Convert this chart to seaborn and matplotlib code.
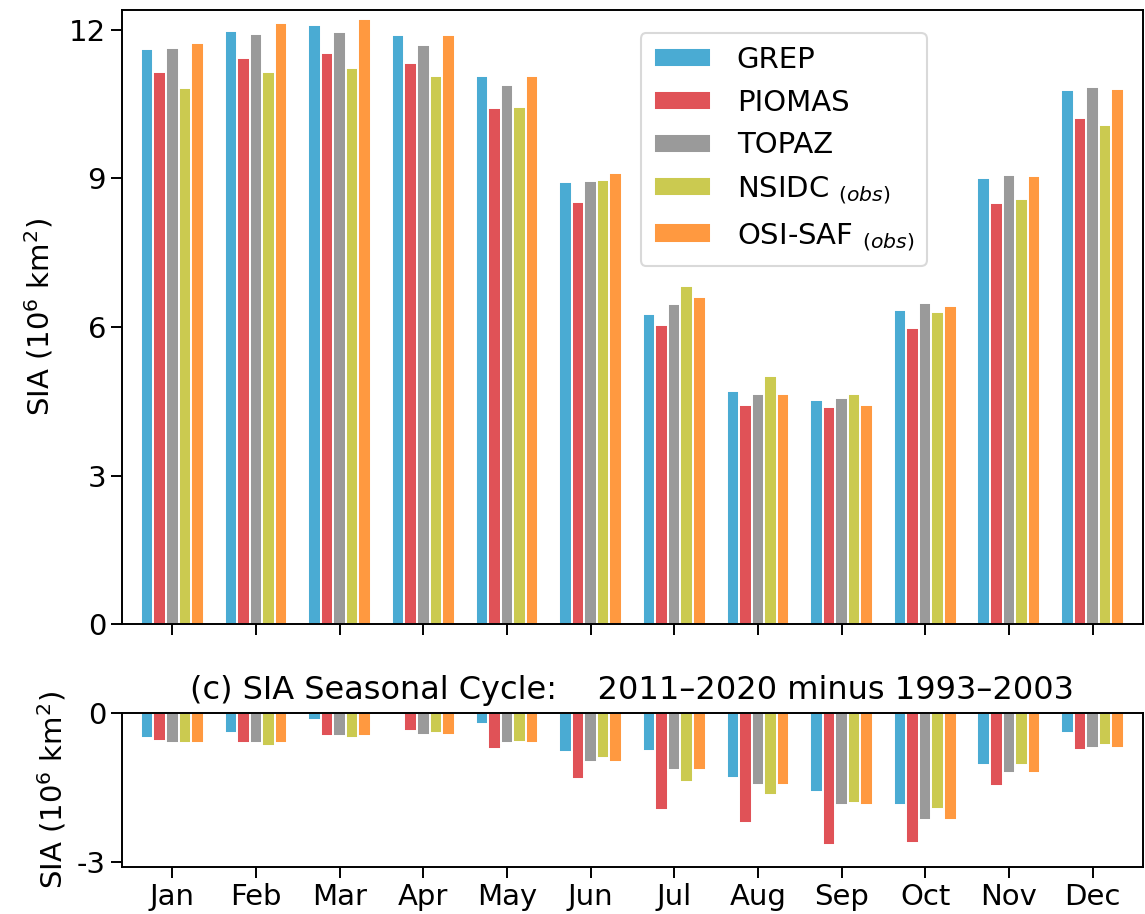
import numpy as np
import pandas as pd
import matplotlib
matplotlib.use("Agg")
import matplotlib.pyplot as plt
import seaborn as sns

# ------------------------------------------------------------
# Data: SIA seasonal cycle (10^6 km^2)
# ------------------------------------------------------------
months = ['Jan', 'Feb', 'Mar', 'Apr', 'May', 'Jun',
          'Jul', 'Aug', 'Sep', 'Oct', 'Nov', 'Dec']
models = ['GREP', 'PIOMAS', 'TOPAZ', 'NSIDC', 'OSI-SAF']
labels = ['GREP', 'PIOMAS', 'TOPAZ', r'NSIDC $_{(obs)}$', r'OSI-SAF $_{(obs)}$']
colors = ['#4aabd3', '#e05257', '#9a9a9a', '#cbca50', '#ff9940']

grep = [11.61, 11.97, 12.09, 11.90, 11.06, 8.93, 6.26, 4.70, 4.52, 6.34, 9.01, 10.79]
piomas = [11.14, 11.43, 11.54, 11.33, 10.42, 8.53, 6.05, 4.42, 4.38, 5.99, 8.51, 10.23]
topaz = [11.64, 11.92, 11.96, 11.70, 10.89, 8.95, 6.47, 4.64, 4.56, 6.49, 9.07, 10.85]
nsidc = [10.82, 11.15, 11.24, 11.06, 10.44, 8.97, 6.83, 5.02, 4.64, 6.31, 8.59, 10.08]
osisaf = [11.73, 12.14, 12.21, 11.90, 11.06, 9.11, 6.61, 4.64, 4.43, 6.42, 9.05, 10.80]

# 2011-2020 minus 1993-2003
d_grep = [-0.50, -0.41, -0.15, -0.01, -0.23, -0.79, -0.76, -1.31, -1.60, -1.86, -1.05, -0.40]
d_piomas = [-0.57, -0.60, -0.46, -0.36, -0.72, -1.32, -1.96, -2.21, -2.65, -2.62, -1.47, -0.75]
d_topaz = [-0.60, -0.60, -0.46, -0.44, -0.60, -0.98, -1.15, -1.46, -1.86, -2.16, -1.21, -0.70]
d_nsidc = [-0.60, -0.67, -0.50, -0.41, -0.59, -0.90, -1.39, -1.66, -1.81, -1.94, -1.04, -0.64]
d_osisaf = [-0.60, -0.60, -0.46, -0.44, -0.60, -0.98, -1.15, -1.46, -1.86, -2.16, -1.21, -0.70]


def long_table(series):
    rows = []
    for name, vals in zip(models, series):
        for m, v in zip(months, vals):
            rows.append({'month': m, 'model': name, 'SIA': v})
    return pd.DataFrame(rows)


clim = long_table([grep, piomas, topaz, nsidc, osisaf])
diff = long_table([d_grep, d_piomas, d_topaz, d_nsidc, d_osisaf])

# ------------------------------------------------------------
# Plot
# ------------------------------------------------------------
sns.set_style('ticks', rc={'axes.edgecolor': 'black', 'text.color': 'black',
                           'axes.labelcolor': 'black', 'xtick.color': 'black',
                           'ytick.color': 'black'})
plt.rcParams['font.family'] = ['DejaVu Sans']
plt.rcParams['axes.unicode_minus'] = False
plt.rcParams['axes.linewidth'] = 1.4

fig = plt.figure(figsize=(11.45, 9.14), dpi=100)
ax1 = fig.add_axes([0.1066, 0.317, 0.8914, 0.672])
ax2 = fig.add_axes([0.1066, 0.0514, 0.8914, 0.1686])

pal = dict(zip(models, colors))
bar_kw = dict(x='month', y='SIA', hue='model', hue_order=models, order=months,
              palette=pal, width=0.75, saturation=1, edgecolor='white',
              linewidth=1.4)

sns.barplot(data=clim, ax=ax1, **bar_kw)
sns.barplot(data=diff, ax=ax2, legend=False, **bar_kw)

# top panel
ax1.set_ylim(0, 12.4)
ax1.set_xlim(-0.6, 11.6)
ax1.set_yticks([0, 3, 6, 9, 12])
ax1.set_xticklabels([])
ax1.set_xlabel('')
ax1.set_ylabel('SIA (10$^6$ km$^2$)', fontsize=21, labelpad=10)
ax1.tick_params(axis='both', labelsize=21, length=8, width=1.4)

handles, _ = ax1.get_legend_handles_labels()
leg = ax1.legend(handles, labels, loc='upper left', bbox_to_anchor=(0.508, 0.9625),
                 borderaxespad=0, fontsize=21, handlelength=1.95, handleheight=0.63,
                 labelspacing=0.5, borderpad=0.45, handletextpad=0.9,
                 frameon=True, edgecolor='#d0d0d0', fancybox=True)
leg.get_frame().set_linewidth(1.5)

# bottom panel
ax2.set_ylim(-3.1, 0)
ax2.set_xlim(-0.6, 11.6)
ax2.set_yticks([0, -3])
ax2.set_xlabel('')
ax2.set_ylabel('SIA (10$^6$ km$^2$)', fontsize=21, labelpad=6)
ax2.tick_params(axis='both', labelsize=21, length=8, width=1.4)
ax2.set_title('(c) SIA Seasonal Cycle:    2011\u20132020 minus 1993\u20132003',
              fontsize=23, pad=10)

fig.savefig('out.png', dpi=100)
